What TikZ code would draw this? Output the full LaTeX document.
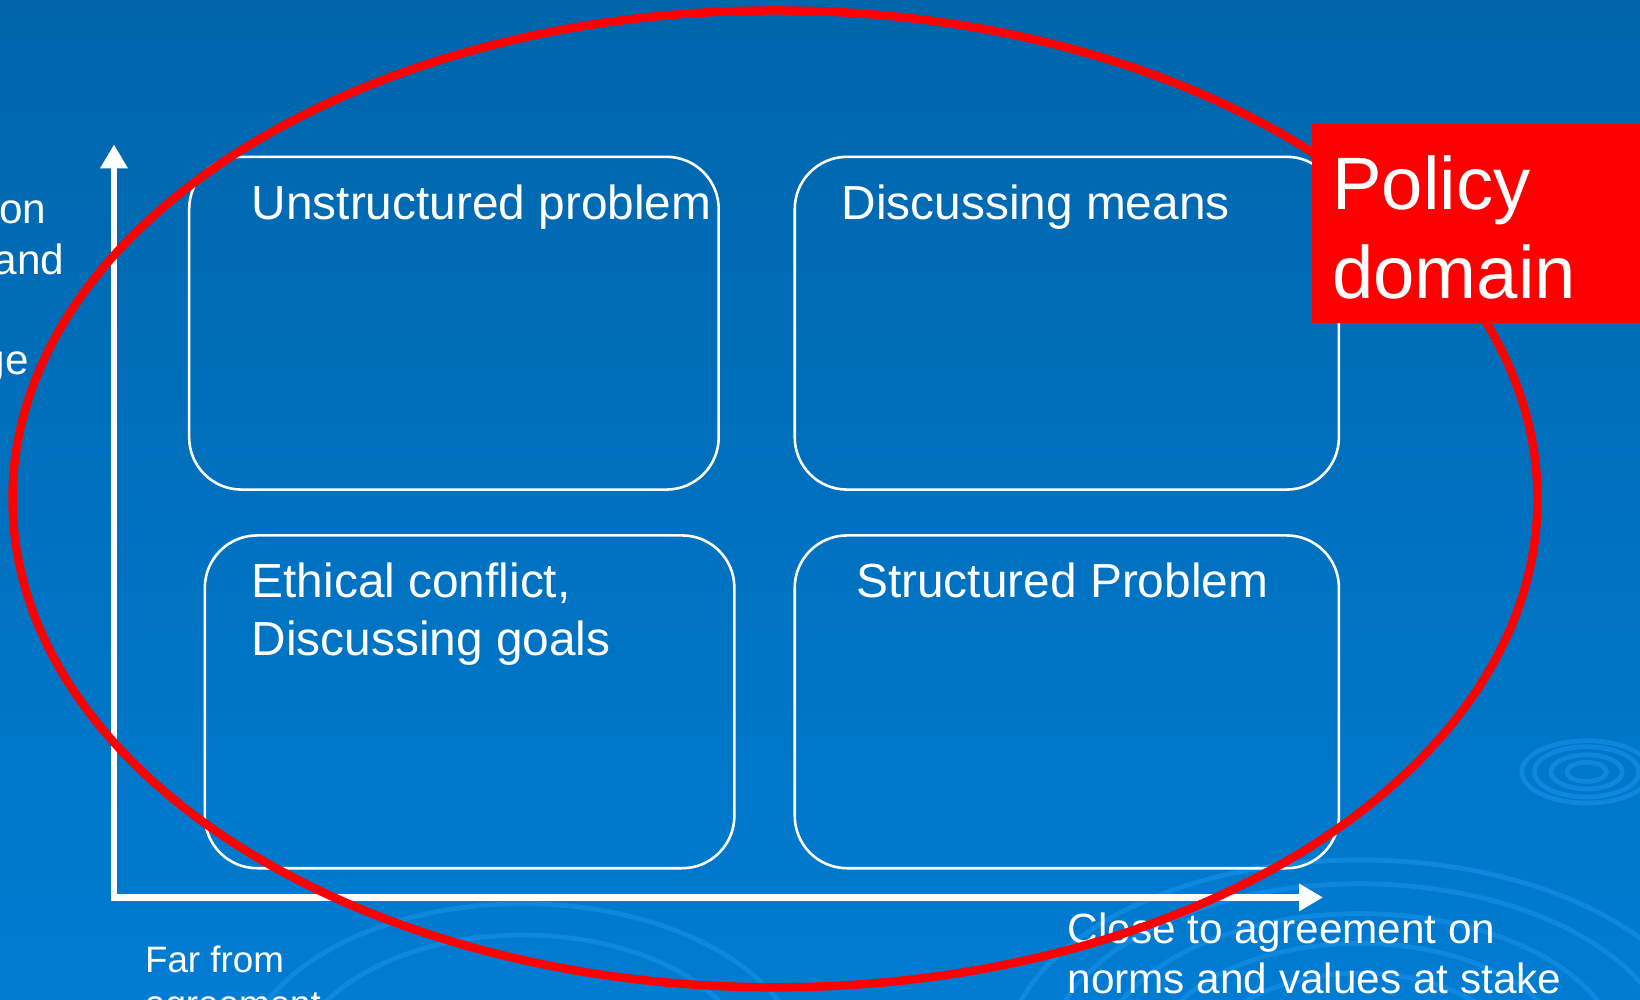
\documentclass[tikz,border=0pt]{standalone}
\usepackage{fontspec}
\setmainfont{Liberation Sans}
\usetikzlibrary{arrows.meta}

\definecolor{slidetop}{RGB}{0,101,171}
\definecolor{slidebottom}{RGB}{0,124,210}
\definecolor{ripple}{RGB}{20,142,230}
\definecolor{policyred}{RGB}{255,0,0}

\begin{document}
\begin{tikzpicture}[x=0.01cm,y=0.01cm]

 \tikzset{
    quadrant/.style={draw=white, line width=0.7pt, rounded corners=0.5cm, inner sep=0pt},
    quadtext/.style={text=white, font=\fontsize{13}{15.9}\selectfont, anchor=base west, align=left, inner sep=0pt},
    axislabel/.style={text=white, font=\fontsize{11.5}{13.7}\selectfont, align=left, inner sep=0pt},
    axisline/.style={white, line width=1.9pt, {Triangle[length=0.23cm,width=0.25cm]}-{Triangle[length=0.23cm,width=0.25cm]}},
    policyring/.style={draw=policyred, line width=2.3pt},
    ripplering/.style={draw=ripple, line width=1.3pt, opacity=0.7},
  }

  \clip (0,0) rectangle (1568,956);
  \shade[top color=slidetop, bottom color=slidebottom] (0,0) rectangle (1568,956);

  \foreach \r in {150,200,250,300,340}
    \draw[ripplering] (1300,-60) ellipse [x radius=\r, y radius=0.57*\r];
  \foreach \r in {220,270}
    \draw[ripplering] (500,-70) ellipse [x radius=\r, y radius=0.6*\r];
  \foreach \r in {19,34,50,62}
    \draw[ripplering] (1517,218) ellipse [x radius=\r, y radius=0.48*\r];

  \node[axislabel, anchor=base east] (certainty) at (45,742) {on};
  \node[axislabel, anchor=base east] (knowand) at (62,694) {and};
  \node[axislabel, anchor=base east] (knowledge) at (28,598) {ge};

  \coordinate (origin) at (109,98);
  \coordinate (ytip) at (109,818);
  \coordinate (xtip) at (1265,98);
  \draw[axisline] (ytip) -- (origin) -- (xtip);

  \node[quadrant, minimum width=5.06cm, minimum height=3.18cm] (unstructured) at (434,647) {};
  \node[quadrant, minimum width=5.2cm, minimum height=3.18cm] (means) at (1020,647) {};
  \node[quadrant, minimum width=5.06cm, minimum height=3.18cm] (ethical) at (449,285) {};
  \node[quadrant, minimum width=5.2cm, minimum height=3.18cm] (structured) at (1020,285) {};

  \node[quadtext] (unstructuredtext) at (240,746) {Unstructured problem};
  \node[quadtext] (meanstext) at (804,746) {Discussing means};
  \node[quadtext] (ethicaltext) at (240,329) {Ethical conflict,\\Discussing goals};
  \node[quadtext] (structuredtext) at (818,385) {Structured Problem};

  \node[axislabel, anchor=base west, font=\fontsize{10}{12}\selectfont] (farlabel) at (138,-16) {Far from\\agreement};
  \node[axislabel, anchor=base west] (closelabel) at (1020,6) {Close to agreement on\\norms and values at stake};

  \draw[policyring] (741,479) ellipse [x radius=729, y radius=467];

  \node[fill=policyred, anchor=north west, minimum width=3.3cm, minimum height=1.9cm, inner sep=0pt] (policybox) at (1254,838) {};
  \node[text=white, anchor=base west, align=left, inner sep=0pt, font=\fontsize{20.2}{24.2}\selectfont] (policytext) at (1273,671) {Policy\\domain};

\end{tikzpicture}
\end{document}
